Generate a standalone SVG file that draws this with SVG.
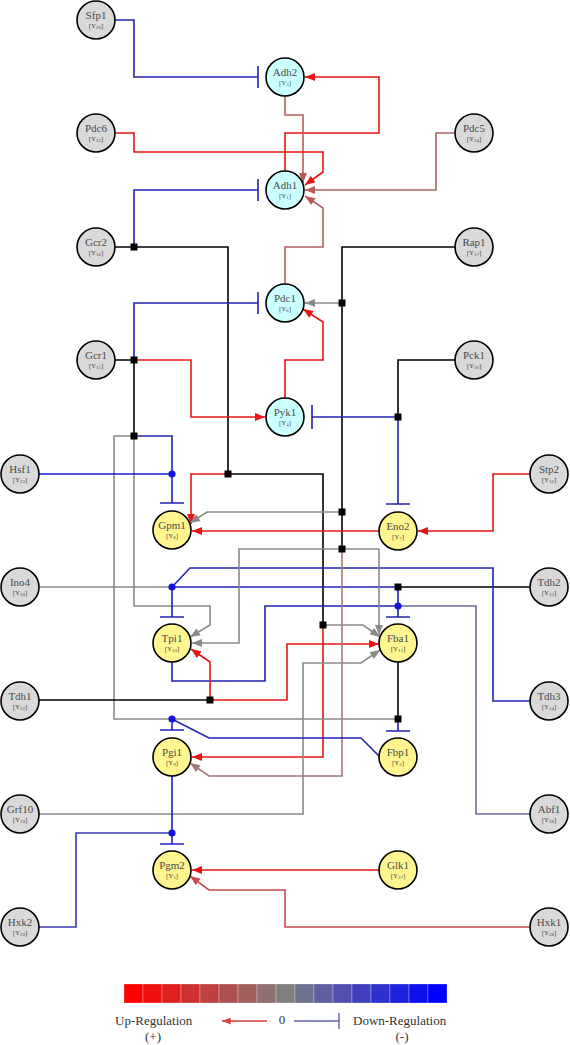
<svg xmlns="http://www.w3.org/2000/svg" width="570" height="1045" viewBox="0 0 570 1045">
<style>
.c{fill:none;stroke-width:1.6;stroke-linejoin:miter}
.r{stroke:#e81414}
.b{stroke:#2222b4}
.k{stroke:#000}
.g{stroke:#8a8a8a}
.n circle{stroke:#000;stroke-width:1.6}
.gy circle{fill:#d9d9d9}
.cy circle{fill:#ccffff}
.yl circle{fill:#fff68f}
.n text{font-family:"Liberation Serif","Times New Roman",serif;fill:#4a4a4a;text-anchor:middle}
.lb{font-size:11px}
.sb{font-size:7px}
.ss{font-size:5px}
.lg{font-family:"Liberation Serif","Times New Roman",serif;font-size:13px;fill:#333}
</style>
<defs>
<marker id="aR" viewBox="0 0 10 8" refX="10" refY="4" markerWidth="11" markerHeight="8" markerUnits="userSpaceOnUse" orient="auto"><path d="M0,0L10,4L0,8z" fill="#e81414"/></marker>
<marker id="aG" viewBox="0 0 10 8" refX="10" refY="4" markerWidth="11" markerHeight="8" markerUnits="userSpaceOnUse" orient="auto"><path d="M0,0L10,4L0,8z" fill="#8a8a8a"/></marker>
<marker id="aB1" viewBox="0 0 10 8" refX="10" refY="4" markerWidth="11" markerHeight="8" markerUnits="userSpaceOnUse" orient="auto"><path d="M0,0L10,4L0,8z" fill="#b85a5a"/></marker>
<marker id="aB2" viewBox="0 0 10 8" refX="10" refY="4" markerWidth="11" markerHeight="8" markerUnits="userSpaceOnUse" orient="auto"><path d="M0,0L10,4L0,8z" fill="#a07878"/></marker>
<marker id="aB3" viewBox="0 0 10 8" refX="10" refY="4" markerWidth="11" markerHeight="8" markerUnits="userSpaceOnUse" orient="auto"><path d="M0,0L10,4L0,8z" fill="#c84a4a"/></marker>
<marker id="aL" viewBox="0 0 10 8" refX="10" refY="4" markerWidth="10" markerHeight="7" markerUnits="userSpaceOnUse" orient="auto"><path d="M0,0L10,4L0,8z" fill="#d84040"/></marker>
</defs>
<rect width="570" height="1045" fill="#fff"/>
<g id="connectors">
<!-- Sfp1 -| Adh2 -->
<path class="c b" d="M115,20H134V77H258M258,66V88"/>
<!-- Adh1 -> Adh2 -->
<path class="c r" d="M285,171V133H379V77H305" marker-end="url(#aR)"/>
<!-- Adh2 -> Adh1 -->
<path class="c" stroke="#b85a5a" d="M285,96V115H303V183" marker-end="url(#aB1)"/>
<!-- Pdc6 -> Adh1 -->
<path class="c r" d="M115,133H134V152H323V172L305,185" marker-end="url(#aR)"/>
<!-- Pdc5 -> Adh1 -->
<path class="c" stroke="#a86464" d="M455,133H436V190H305" marker-end="url(#aB1)"/>
<!-- Pdc1 -> Adh1 -->
<path class="c" stroke="#b06060" d="M285,284V247H323V208L305,196" marker-end="url(#aB1)"/>
<!-- Gcr2 -->
<path class="c k" d="M115,247H228V474H323V625"/>
<path class="c b" d="M134,247V190H258M258,179V201"/>
<path class="c r" d="M228,474H191V524" marker-end="url(#aR)"/>
<path class="c g" d="M323,625H363L380,637" marker-end="url(#aG)"/>
<path class="c r" d="M323,625V757H192" marker-end="url(#aR)"/>
<!-- Gcr1 -->
<path class="c k" d="M115,360H134V436"/>
<path class="c b" d="M134,360V303H258M258,292V314"/>
<path class="c r" d="M134,360H191V417H265" marker-end="url(#aR)"/>
<path class="c g" d="M134,436H114V719H398"/>
<path class="c g" d="M134,436V606H210V625L190,637" marker-end="url(#aG)"/>
<path class="c b" d="M134,436H172V503M160,503H184"/>
<!-- Hsf1 -->
<path class="c" stroke="#1a1ad0" d="M39,474H172"/>
<!-- Ino4 / Tdh2 / Tdh3 -| Tpi1 -->
<path class="c g" d="M39,587H172"/>
<path class="c b" d="M172,587V617M160,617H184"/>
<path class="c k" d="M530,587H398"/>
<path class="c b" d="M398,587H172"/>
<path class="c b" d="M398,587V617M386,617H410"/>
<path class="c b" d="M530,701H493V568H190L172,587"/>
<!-- Abf1 -->
<path class="c" stroke="#6a6aa0" d="M530,814H476V606H398"/>
<!-- Tpi1 -| Fba1 -->
<path class="c b" d="M172,662V681H265V606H398"/>
<!-- Tdh1 -->
<path class="c k" d="M39,700H210"/>
<path class="c r" d="M210,700V662L191,649" marker-end="url(#aR)"/>
<path class="c r" d="M210,700H287V644H379" marker-end="url(#aR)"/>
<!-- Rap1 -->
<path class="c k" d="M455,247H342V549"/>
<path class="c g" d="M342,303H305" marker-end="url(#aG)"/>
<path class="c g" d="M342,512H207L190,523" marker-end="url(#aG)"/>
<path class="c g" d="M342,549H379V635" marker-end="url(#aG)"/>
<path class="c g" d="M342,549H239V643H192" marker-end="url(#aG)"/>
<path class="c" stroke="#a07878" d="M342,549V776H209L190,763" marker-end="url(#aB2)"/>
<!-- Grf10 -->
<path class="c g" d="M39,814H303V663H361L380,650" marker-end="url(#aG)"/>
<!-- Pck1 -->
<path class="c k" d="M455,360H398V417"/>
<path class="c b" d="M398,417H312M312,405V429"/>
<path class="c b" d="M398,417V504M386,504H410"/>
<!-- Stp2 -> Eno2 -->
<path class="c r" d="M530,474H493V531H418" marker-end="url(#aR)"/>
<!-- Eno2 -> Gpm1 -->
<path class="c r" d="M379,531H192" marker-end="url(#aR)"/>
<!-- Pyk1 -> Pdc1 -->
<path class="c r" d="M285,398V360H323V322L303,309" marker-end="url(#aR)"/>
<!-- Fba1 -| Fbp1 -->
<path class="c k" d="M398,662V719"/>
<path class="c b" d="M398,719V731M386,731H410"/>
<!-- Fbp1 -| Pgi1 -->
<path class="c b" d="M380,757L361,738H209L172,719V730M160,730H184"/>
<!-- Pgi1 -| Pgm2 -->
<path class="c" stroke="#2020c0" d="M172,776V844M160,844H184"/>
<!-- Hxk2 -->
<path class="c" stroke="#3a3ab4" d="M39,927H76V833H172"/>
<!-- Glk1 -> Pgm2 -->
<path class="c r" d="M379,870H192" marker-end="url(#aR)"/>
<!-- Hxk1 -> Pgm2 -->
<path class="c" stroke="#c84a4a" d="M530,927H285V890H209L190,876" marker-end="url(#aB3)"/>
<!-- junction squares -->
<g fill="#000">
<rect x="130.5" y="243.5" width="7" height="7"/>
<rect x="130.5" y="356.5" width="7" height="7"/>
<rect x="130.5" y="432.5" width="7" height="7"/>
<rect x="224.5" y="470.5" width="7" height="7"/>
<rect x="319.5" y="621.5" width="7" height="7"/>
<rect x="338.5" y="299.5" width="7" height="7"/>
<rect x="338.5" y="508.5" width="7" height="7"/>
<rect x="338.5" y="545.5" width="7" height="7"/>
<rect x="394.5" y="413.5" width="7" height="7"/>
<rect x="394.5" y="583.5" width="7" height="7"/>
<rect x="206.5" y="696.5" width="7" height="7"/>
<rect x="394.5" y="715.5" width="7" height="7"/>
</g>
<g fill="#1414d8">
<circle cx="172" cy="474" r="3.6"/>
<circle cx="172" cy="587" r="3.6"/>
<circle cx="398" cy="606" r="3.6"/>
<circle cx="172" cy="719" r="3.6"/>
<circle cx="172" cy="833" r="3.6"/>
</g>
</g>
<g id="Sfp1" class="n gy"><circle cx="96" cy="20" r="19"/><text class="lb" x="96" y="19">Sfp1</text><text class="sb" x="96" y="28">[Y<tspan class="ss" dy="1">20</tspan><tspan dy="-1">]</tspan></text></g>
<g id="Pdc6" class="n gy"><circle cx="96" cy="133" r="19"/><text class="lb" x="96" y="132">Pdc6</text><text class="sb" x="96" y="141">[Y<tspan class="ss" dy="1">25</tspan><tspan dy="-1">]</tspan></text></g>
<g id="Gcr2" class="n gy"><circle cx="96" cy="247" r="19"/><text class="lb" x="96" y="246">Gcr2</text><text class="sb" x="96" y="255">[Y<tspan class="ss" dy="1">16</tspan><tspan dy="-1">]</tspan></text></g>
<g id="Gcr1" class="n gy"><circle cx="96" cy="360" r="19"/><text class="lb" x="96" y="359">Gcr1</text><text class="sb" x="96" y="368">[Y<tspan class="ss" dy="1">15</tspan><tspan dy="-1">]</tspan></text></g>
<g id="Pdc5" class="n gy"><circle cx="474" cy="133" r="19"/><text class="lb" x="474" y="132">Pdc5</text><text class="sb" x="474" y="141">[Y<tspan class="ss" dy="1">24</tspan><tspan dy="-1">]</tspan></text></g>
<g id="Rap1" class="n gy"><circle cx="474" cy="247" r="19"/><text class="lb" x="474" y="246">Rap1</text><text class="sb" x="474" y="255">[Y<tspan class="ss" dy="1">17</tspan><tspan dy="-1">]</tspan></text></g>
<g id="Pck1" class="n gy"><circle cx="474" cy="360" r="19"/><text class="lb" x="474" y="359">Pck1</text><text class="sb" x="474" y="368">[Y<tspan class="ss" dy="1">26</tspan><tspan dy="-1">]</tspan></text></g>
<g id="Hsf1" class="n gy"><circle cx="20" cy="474" r="19"/><text class="lb" x="20" y="473">Hsf1</text><text class="sb" x="20" y="482">[Y<tspan class="ss" dy="1">23</tspan><tspan dy="-1">]</tspan></text></g>
<g id="Ino4" class="n gy"><circle cx="20" cy="587" r="19"/><text class="lb" x="20" y="586">Ino4</text><text class="sb" x="20" y="595">[Y<tspan class="ss" dy="1">30</tspan><tspan dy="-1">]</tspan></text></g>
<g id="Tdh1" class="n gy"><circle cx="20" cy="701" r="19"/><text class="lb" x="20" y="700">Tdh1</text><text class="sb" x="20" y="709">[Y<tspan class="ss" dy="1">12</tspan><tspan dy="-1">]</tspan></text></g>
<g id="Grf10" class="n gy"><circle cx="20" cy="814" r="19"/><text class="lb" x="20" y="813">Grf10</text><text class="sb" x="20" y="822">[Y<tspan class="ss" dy="1">19</tspan><tspan dy="-1">]</tspan></text></g>
<g id="Hxk2" class="n gy"><circle cx="20" cy="927" r="19"/><text class="lb" x="20" y="926">Hxk2</text><text class="sb" x="20" y="935">[Y<tspan class="ss" dy="1">29</tspan><tspan dy="-1">]</tspan></text></g>
<g id="Stp2" class="n gy"><circle cx="549" cy="474" r="19"/><text class="lb" x="549" y="473">Stp2</text><text class="sb" x="549" y="482">[Y<tspan class="ss" dy="1">31</tspan><tspan dy="-1">]</tspan></text></g>
<g id="Tdh2" class="n gy"><circle cx="549" cy="587" r="19"/><text class="lb" x="549" y="586">Tdh2</text><text class="sb" x="549" y="595">[Y<tspan class="ss" dy="1">13</tspan><tspan dy="-1">]</tspan></text></g>
<g id="Tdh3" class="n gy"><circle cx="549" cy="701" r="19"/><text class="lb" x="549" y="700">Tdh3</text><text class="sb" x="549" y="709">[Y<tspan class="ss" dy="1">14</tspan><tspan dy="-1">]</tspan></text></g>
<g id="Abf1" class="n gy"><circle cx="549" cy="814" r="19"/><text class="lb" x="549" y="813">Abf1</text><text class="sb" x="549" y="822">[Y<tspan class="ss" dy="1">18</tspan><tspan dy="-1">]</tspan></text></g>
<g id="Hxk1" class="n gy"><circle cx="549" cy="927" r="19"/><text class="lb" x="549" y="926">Hxk1</text><text class="sb" x="549" y="935">[Y<tspan class="ss" dy="1">28</tspan><tspan dy="-1">]</tspan></text></g>
<g id="Adh2" class="n cy"><circle cx="285" cy="77" r="19"/><text class="lb" x="285" y="76">Adh2</text><text class="sb" x="285" y="85">[Y<tspan class="ss" dy="1">3</tspan><tspan dy="-1">]</tspan></text></g>
<g id="Adh1" class="n cy"><circle cx="285" cy="190" r="19"/><text class="lb" x="285" y="189">Adh1</text><text class="sb" x="285" y="198">[Y<tspan class="ss" dy="1">1</tspan><tspan dy="-1">]</tspan></text></g>
<g id="Pdc1" class="n cy"><circle cx="285" cy="303" r="19"/><text class="lb" x="285" y="302">Pdc1</text><text class="sb" x="285" y="311">[Y<tspan class="ss" dy="1">6</tspan><tspan dy="-1">]</tspan></text></g>
<g id="Pyk1" class="n cy"><circle cx="285" cy="417" r="19"/><text class="lb" x="285" y="416">Pyk1</text><text class="sb" x="285" y="425">[Y<tspan class="ss" dy="1">4</tspan><tspan dy="-1">]</tspan></text></g>
<g id="Gpm1" class="n yl"><circle cx="172" cy="530" r="19"/><text class="lb" x="172" y="529">Gpm1</text><text class="sb" x="172" y="538">[Y<tspan class="ss" dy="1">8</tspan><tspan dy="-1">]</tspan></text></g>
<g id="Eno2" class="n yl"><circle cx="398" cy="531" r="19"/><text class="lb" x="398" y="530">Eno2</text><text class="sb" x="398" y="539">[Y<tspan class="ss" dy="1">7</tspan><tspan dy="-1">]</tspan></text></g>
<g id="Tpi1" class="n yl"><circle cx="172" cy="643" r="19"/><text class="lb" x="172" y="642">Tpi1</text><text class="sb" x="172" y="651">[Y<tspan class="ss" dy="1">10</tspan><tspan dy="-1">]</tspan></text></g>
<g id="Fba1" class="n yl"><circle cx="398" cy="643" r="19"/><text class="lb" x="398" y="642">Fba1</text><text class="sb" x="398" y="651">[Y<tspan class="ss" dy="1">11</tspan><tspan dy="-1">]</tspan></text></g>
<g id="Pgi1" class="n yl"><circle cx="172" cy="757" r="19"/><text class="lb" x="172" y="756">Pgi1</text><text class="sb" x="172" y="765">[Y<tspan class="ss" dy="1">9</tspan><tspan dy="-1">]</tspan></text></g>
<g id="Fbp1" class="n yl"><circle cx="398" cy="757" r="19"/><text class="lb" x="398" y="756">Fbp1</text><text class="sb" x="398" y="765">[Y<tspan class="ss" dy="1">2</tspan><tspan dy="-1">]</tspan></text></g>
<g id="Pgm2" class="n yl"><circle cx="172" cy="870" r="19"/><text class="lb" x="172" y="869">Pgm2</text><text class="sb" x="172" y="878">[Y<tspan class="ss" dy="1">5</tspan><tspan dy="-1">]</tspan></text></g>
<g id="Glk1" class="n yl"><circle cx="398" cy="870" r="19"/><text class="lb" x="398" y="869">Glk1</text><text class="sb" x="398" y="878">[Y<tspan class="ss" dy="1">27</tspan><tspan dy="-1">]</tspan></text></g>
<g id="legend">
<g stroke="#fff" stroke-opacity="0.35" stroke-width="0.8">
<rect x="124" y="984" width="19" height="19" fill="#ff0000"/>
<rect x="143" y="984" width="19" height="19" fill="#ef1010"/>
<rect x="162" y="984" width="19" height="19" fill="#df2020"/>
<rect x="181" y="984" width="19" height="19" fill="#cf3030"/>
<rect x="200" y="984" width="19" height="19" fill="#bf4040"/>
<rect x="219" y="984" width="19" height="19" fill="#af5050"/>
<rect x="238" y="984" width="19" height="19" fill="#a06060"/>
<rect x="257" y="984" width="19" height="19" fill="#907070"/>
<rect x="276" y="984" width="19" height="19" fill="#808080"/>
<rect x="295" y="984" width="19" height="19" fill="#707090"/>
<rect x="314" y="984" width="19" height="19" fill="#6060a0"/>
<rect x="333" y="984" width="19" height="19" fill="#5050af"/>
<rect x="352" y="984" width="19" height="19" fill="#4040bf"/>
<rect x="371" y="984" width="19" height="19" fill="#3030cf"/>
<rect x="390" y="984" width="19" height="19" fill="#2020df"/>
<rect x="409" y="984" width="19" height="19" fill="#1010ef"/>
<rect x="428" y="984" width="19" height="19" fill="#0000ff"/>
</g>
<path d="M267,1021H222" stroke="#d84040" stroke-width="1.4" fill="none" marker-end="url(#aL)"/>
<path d="M294,1021H339M339,1013V1029" stroke="#6060b8" stroke-width="1.4" fill="none"/>
<text class="lg" x="115" y="1025">Up-Regulation</text>
<text class="lg" x="153" y="1041" text-anchor="middle">(+)</text>
<text class="lg" x="282" y="1024" text-anchor="middle">0</text>
<text class="lg" x="353" y="1025">Down-Regulation</text>
<text class="lg" x="402" y="1041" text-anchor="middle">(-)</text>
</g>
</svg>
